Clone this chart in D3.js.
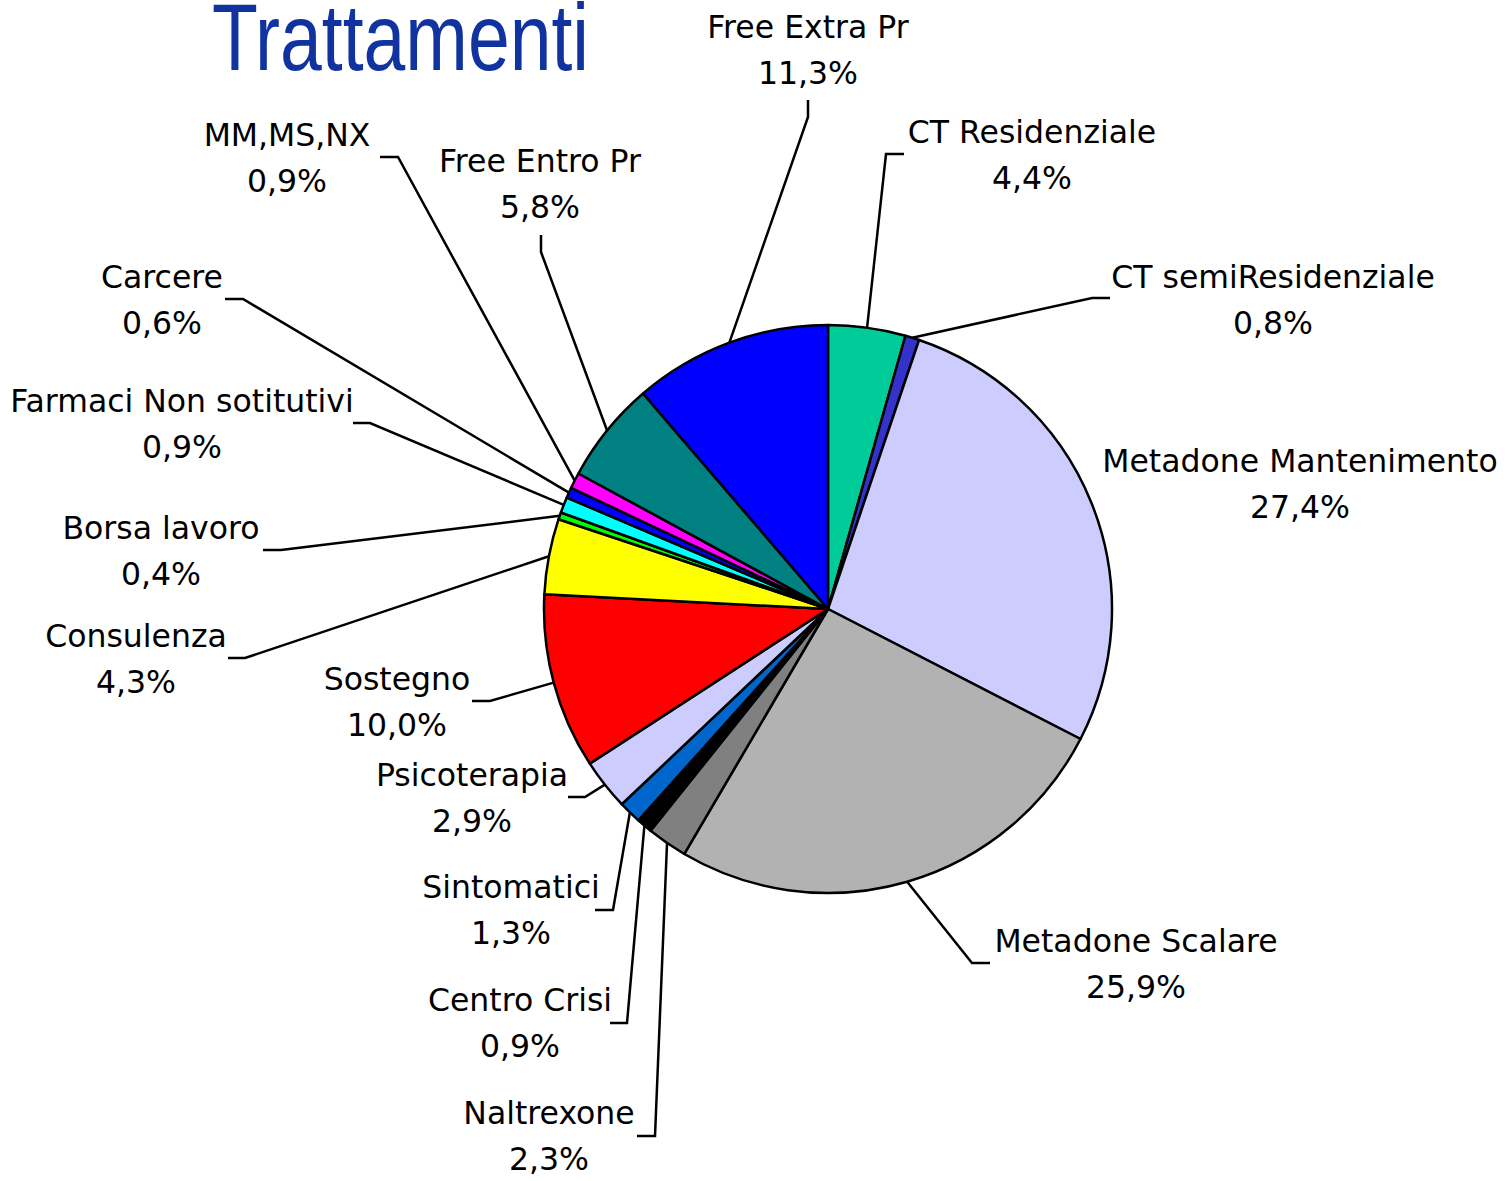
<!DOCTYPE html>
<html>
<head>
<meta charset="utf-8">
<script src="https://cdn.jsdelivr.net/npm/d3@7"></script>
<style>
  body { margin: 0; background: #fff; }
  .lbl { font-family: "DejaVu Sans", Verdana, sans-serif; font-size: 31.5px; fill: #000; }
  .title { font-family: "Liberation Sans", Arial, sans-serif; font-size: 94px; fill: #1133a0; }
</style>
</head>
<body>
<div id="chart"></div>
<script>
// Slice order: clockwise from 12 o'clock
const categories = [
    "CT Residenziale", "CT semiResidenziale", "Metadone Mantenimento", "Metadone Scalare",
    "Naltrexone", "Centro Crisi", "Sintomatici", "Psicoterapia", "Sostegno", "Consulenza",
    "Borsa lavoro", "Farmaci Non sotitutivi", "Carcere", "MM,MS,NX", "Free Entro Pr", "Free Extra Pr"
];
const values = [4.4, 0.8, 27.4, 25.9, 2.3, 0.9, 1.3, 2.9, 10.0, 4.3, 0.4, 0.9, 0.6, 0.9, 5.8, 11.3];
const colors = [
    "#00cc99", "#3333cc", "#ccccff", "#b2b2b2", "#808080", "#000000", "#0066cc", "#ccccff",
    "#ff0000", "#ffff00", "#00ff00", "#00ffff", "#0000ff", "#ff00ff", "#008080", "#0000ff"
];

// label layout (Excel-style manual placement): [textCenterX, nameBaseline, elbowX, elbowY, endX, endY]
const labelPos = [
    [1032, 143, 886, 154, 904, 154],
    [1273, 288, 1092, 298, 1110, 298],
    [1300, 472, null, null, null, null],
    [1136, 952, 972, 963, 990, 963],
    [549, 1124, 655, 1136, 637, 1136],
    [520, 1011, 627, 1023, 610, 1023],
    [511, 898, 613, 910, 595, 910],
    [472, 786, 585, 797, 568, 797],
    [397, 690, 490, 701, 472, 701],
    [136, 647, 245, 658, 228, 658],
    [161, 539, 281, 550, 263, 550],
    [182, 412, 370, 423, 353, 423],
    [162, 288, 243, 299, 225, 299],
    [287, 146, 398, 157, 380, 157],
    [540, 172, 541, 252, 541, 235],
    [808, 38, 808, 117, 808, 100]
];

const width = 1508, height = 1181;
const cx = 828, cy = 609, radius = 284;

const it = d3.formatLocale({ decimal: ",", thousands: ".", grouping: [3], currency: ["", "€"] });
const fmt = it.format(".1%");

const data = categories.map((c, i) => ({ name: c, value: values[i], color: colors[i], pos: labelPos[i] }));

const svg = d3.select("#chart")
    .append("svg")
    .attr("width", width)
    .attr("height", height);

// Title
svg.append("text")
    .attr("class", "title")
    .attr("x", 212)
    .attr("y", 70)
    .attr("textLength", 377)
    .attr("lengthAdjust", "spacingAndGlyphs")
    .text("Trattamenti");

const pie = d3.pie().sort(null).value(d => d.value);
const arc = d3.arc().innerRadius(0).outerRadius(radius);
const edge = d3.arc().innerRadius(radius).outerRadius(radius);

const arcs = pie(data);

const g = svg.append("g").attr("transform", `translate(${cx},${cy})`);

g.selectAll("path.slice")
    .data(arcs)
    .enter().append("path")
    .attr("class", "slice")
    .attr("d", arc)
    .attr("fill", d => d.data.color)
    .attr("stroke", "#000")
    .attr("stroke-width", 2.5)
    .attr("stroke-linejoin", "round");

// Leader lines
svg.selectAll("path.leader")
    .data(arcs.filter(d => d.data.pos[2] !== null))
    .enter().append("path")
    .attr("class", "leader")
    .attr("fill", "none")
    .attr("stroke", "#000")
    .attr("stroke-width", 2.5)
    .attr("d", d => {
        const p = edge.centroid(d);
        const pos = d.data.pos;
        return d3.line()([[cx + p[0], cy + p[1]], [pos[2], pos[3]], [pos[4], pos[5]]]);
    });

// Labels
const labels = svg.selectAll("g.label")
    .data(arcs)
    .enter().append("g")
    .attr("class", "label");

labels.append("text")
    .attr("class", "lbl")
    .attr("x", d => d.data.pos[0])
    .attr("y", d => d.data.pos[1])
    .attr("text-anchor", "middle")
    .text(d => d.data.name);

labels.append("text")
    .attr("class", "lbl")
    .attr("x", d => d.data.pos[0])
    .attr("y", d => d.data.pos[1] + 46)
    .attr("text-anchor", "middle")
    .text(d => fmt(d.data.value / 100));
</script>
</body>
</html>
